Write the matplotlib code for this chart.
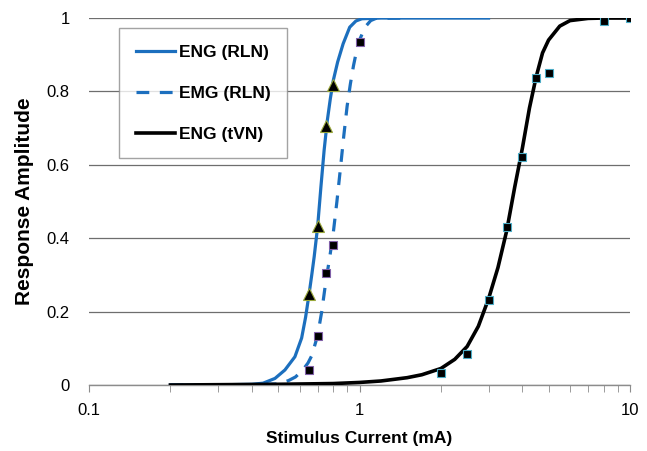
import numpy as np
import matplotlib
matplotlib.use('Agg')
import matplotlib.pyplot as plt
from matplotlib.ticker import FixedLocator, LogLocator, NullFormatter

plt.rcParams['font.family'] = ['Liberation Sans', 'DejaVu Sans']

# fitted curves
eng_rln_x = [0.2, 0.3, 0.4, 0.44, 0.487, 0.53, 0.577, 0.611, 0.632, 0.651, 0.666, 0.68,
             0.70, 0.72, 0.74, 0.76, 0.78, 0.80, 0.83, 0.87, 0.92, 0.97, 1.02, 1.2, 3.0]
eng_rln_y = [0.0, 0.0005, 0.002, 0.005, 0.018, 0.041, 0.077, 0.128, 0.185, 0.248, 0.30, 0.35,
             0.431, 0.54, 0.64, 0.72, 0.78, 0.83, 0.88, 0.93, 0.975, 0.992, 0.998, 1.0, 1.0]

emg_rln_x = [0.2, 0.4, 0.5, 0.546, 0.58, 0.617, 0.645, 0.666, 0.70, 0.725, 0.75, 0.775,
             0.80, 0.825, 0.85, 0.875, 0.90, 0.925, 0.95, 0.975, 1.0, 1.05, 1.1, 1.15, 1.5]
emg_rln_y = [0.0, 0.001, 0.003, 0.012, 0.022, 0.041, 0.06, 0.08, 0.135, 0.20, 0.28, 0.345,
             0.415, 0.50, 0.59, 0.68, 0.76, 0.82, 0.87, 0.91, 0.94, 0.976, 0.993, 0.999, 1.0]

eng_tvn_x = [0.2, 0.5, 0.8, 1.0, 1.2, 1.5, 1.7, 2.0, 2.25, 2.5, 2.75, 3.0, 3.25, 3.5,
             3.75, 4.0, 4.25, 4.5, 4.75, 5.0, 5.5, 6.0, 7.0, 8.0, 10.0]
eng_tvn_y = [0.0, 0.002, 0.004, 0.007, 0.011, 0.02, 0.028, 0.045, 0.07, 0.105, 0.16, 0.235,
             0.32, 0.42, 0.54, 0.645, 0.755, 0.84, 0.905, 0.94, 0.978, 0.993, 0.999, 1.0, 1.0]

# measured points
eng_rln_pts_x = [0.65, 0.70, 0.75, 0.80]
eng_rln_pts_y = [0.248, 0.432, 0.707, 0.818]

emg_rln_pts_x = [0.65, 0.70, 0.75, 0.80, 1.0]
emg_rln_pts_y = [0.041, 0.133, 0.304, 0.381, 0.934]

tvn_pts_x = [2.0, 2.5, 3.0, 3.5, 4.0, 4.5, 5.0, 8.0, 10.0]
tvn_pts_y = [0.034, 0.084, 0.233, 0.43, 0.622, 0.837, 0.849, 0.993, 1.0]

y_ticks = [0, 0.2, 0.4, 0.6, 0.8, 1]
y_labels = ['0', '0.2', '0.4', '0.6', '0.8', '1']
x_ticks = [0.1, 1, 10]
x_labels = ['0.1', '1', '10']

blue = '#1c6fbe'

fig = plt.figure(figsize=(6.47, 4.51), dpi=100)
ax = fig.add_axes([0.1376, 0.1463, 0.8361, 0.8137])

ax.plot(eng_rln_x, eng_rln_y, color=blue, lw=2.3, label='ENG (RLN)', zorder=3)
ax.plot(emg_rln_x, emg_rln_y, color=blue, lw=2.3, ls=(0, (4, 3.3)), label='EMG (RLN)', zorder=3)
ax.plot(eng_tvn_x, eng_tvn_y, color='black', lw=2.6, label='ENG (tVN)', zorder=4)

ax.plot(eng_rln_pts_x, eng_rln_pts_y, ls='none', marker='^', ms=8, mfc='black',
        mec='#9aa83a', mew=0.8, zorder=5)
ax.plot(emg_rln_pts_x, emg_rln_pts_y, ls='none', marker='s', ms=6.3, mfc='black',
        mec='#8060a8', mew=0.8, zorder=5)
ax.plot(tvn_pts_x, tvn_pts_y, ls='none', marker='s', ms=6.3, mfc='black',
        mec='#4bacc6', mew=0.8, zorder=5)

ax.set_xscale('log')
ax.set_xlim(0.1, 10)
ax.set_ylim(0, 1)

ax.yaxis.set_major_locator(FixedLocator(y_ticks))
ax.set_yticklabels(y_labels)
ax.xaxis.set_major_locator(FixedLocator(x_ticks))
ax.set_xticklabels(x_labels)
ax.xaxis.set_minor_locator(LogLocator(base=10, subs=np.arange(2, 10)))
ax.xaxis.set_minor_formatter(NullFormatter())

ax.grid(axis='y', color='#6e6e6e', lw=0.9, zorder=1)
ax.set_axisbelow(True)
for s in ['left', 'right', 'top']:
    ax.spines[s].set_visible(False)
ax.spines['bottom'].set_color('#8c8c8c')
ax.spines['bottom'].set_linewidth(1.0)

ax.tick_params(axis='y', length=0, pad=14, labelsize=12)
ax.tick_params(axis='x', which='both', direction='out', color='#8c8c8c', labelsize=12, pad=8)
ax.tick_params(axis='x', which='major', length=5)
ax.tick_params(axis='x', which='minor', length=5)

ax.set_xlabel('Stimulus Current (mA)', fontsize=12.5, fontweight='bold', labelpad=9)
ax.set_ylabel('Response Amplitude', fontsize=15, fontweight='bold', labelpad=9)

leg = ax.legend(loc='upper left', bbox_to_anchor=(0.0555, 0.973), borderaxespad=0,
                fancybox=False, edgecolor='#8c8c8c', handlelength=2.3, labelspacing=1.5,
                borderpad=0.95, handletextpad=0.2, prop={'weight': 'bold', 'size': 12.5})
leg.get_frame().set_linewidth(1.0)

fig.savefig('out.png', dpi=100)
